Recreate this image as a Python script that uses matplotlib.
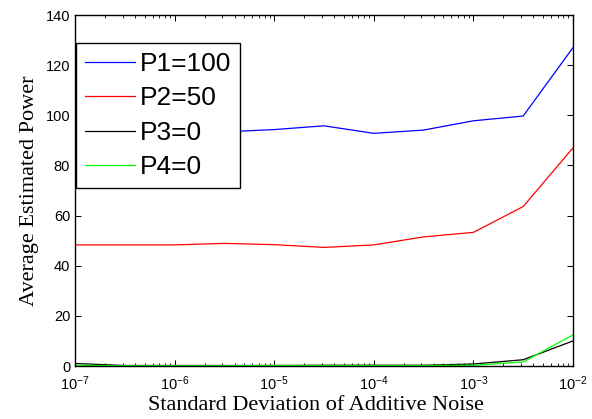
import numpy as np
import matplotlib
matplotlib.use("Agg")
import matplotlib.pyplot as plt

noise_std = [1e-7, 3.16e-7, 1e-6, 3.16e-6, 1e-5, 3.16e-5, 1e-4, 3.16e-4, 1e-3, 3.16e-3, 1e-2]
p1 = [92.2, 92.6, 93.0, 93.4, 94.3, 95.8, 92.8, 94.1, 97.8, 99.7, 127.0]
p2 = [48.3, 48.3, 48.3, 48.9, 48.4, 47.3, 48.3, 51.5, 53.3, 63.6, 87.0]
p3 = [1.0, 0.2, 0.2, 0.2, 0.2, 0.3, 0.3, 0.3, 0.8, 2.5, 10.0]
p4 = [0.3, 0.1, 0.1, 0.1, 0.2, 0.2, 0.2, 0.2, 0.3, 1.6, 12.4]
labels = ["P1=100", "P2=50", "P3=0", "P4=0"]
colors = ["#0000ff", "#ff0000", "#000000", "#00ff00"]

fig = plt.figure(figsize=(5.92, 4.19), dpi=100)
ax = fig.add_axes([75/592, 53/419, 498/592, 351/419])

for ys, lab, c in zip([p1, p2, p3, p4], labels, colors):
    ax.plot(noise_std, ys, color=c, lw=0.9, label=lab)

ax.set_xscale("log")
ax.set_xlim(1e-7, 1e-2)
ax.set_ylim(0, 140)
ax.set_yticks(np.arange(0, 141, 20))

ax.tick_params(which="both", direction="in", top=True, right=True, labelsize=10.5)
ax.tick_params(which="major", length=4, width=0.7)
ax.tick_params(which="minor", length=2.5, width=0.6)
ax.tick_params(axis="x", which="major", pad=6)
for lab in ax.get_xticklabels() + ax.get_yticklabels():
    lab.set_fontfamily("Liberation Sans")
for sp in ax.spines.values():
    sp.set_linewidth(1.0)

ax.set_xlabel("Standard Deviation of Additive Noise", family="Liberation Serif", fontsize=16, labelpad=3)
ax.xaxis.set_label_coords(0.484, -0.085)
ax.set_ylabel("Average Estimated Power", family="Liberation Serif", fontsize=16, labelpad=5)

leg = ax.legend(loc="upper left", bbox_to_anchor=(0.002, 0.920), borderaxespad=0,
                prop={"family": "Liberation Sans", "size": 19},
                handlelength=1.9, handletextpad=0.2, borderpad=0.33,
                labelspacing=0.4, fancybox=False, framealpha=1, edgecolor="black")
leg.get_frame().set_linewidth(1.0)

fig.savefig("out.png", dpi=100)
